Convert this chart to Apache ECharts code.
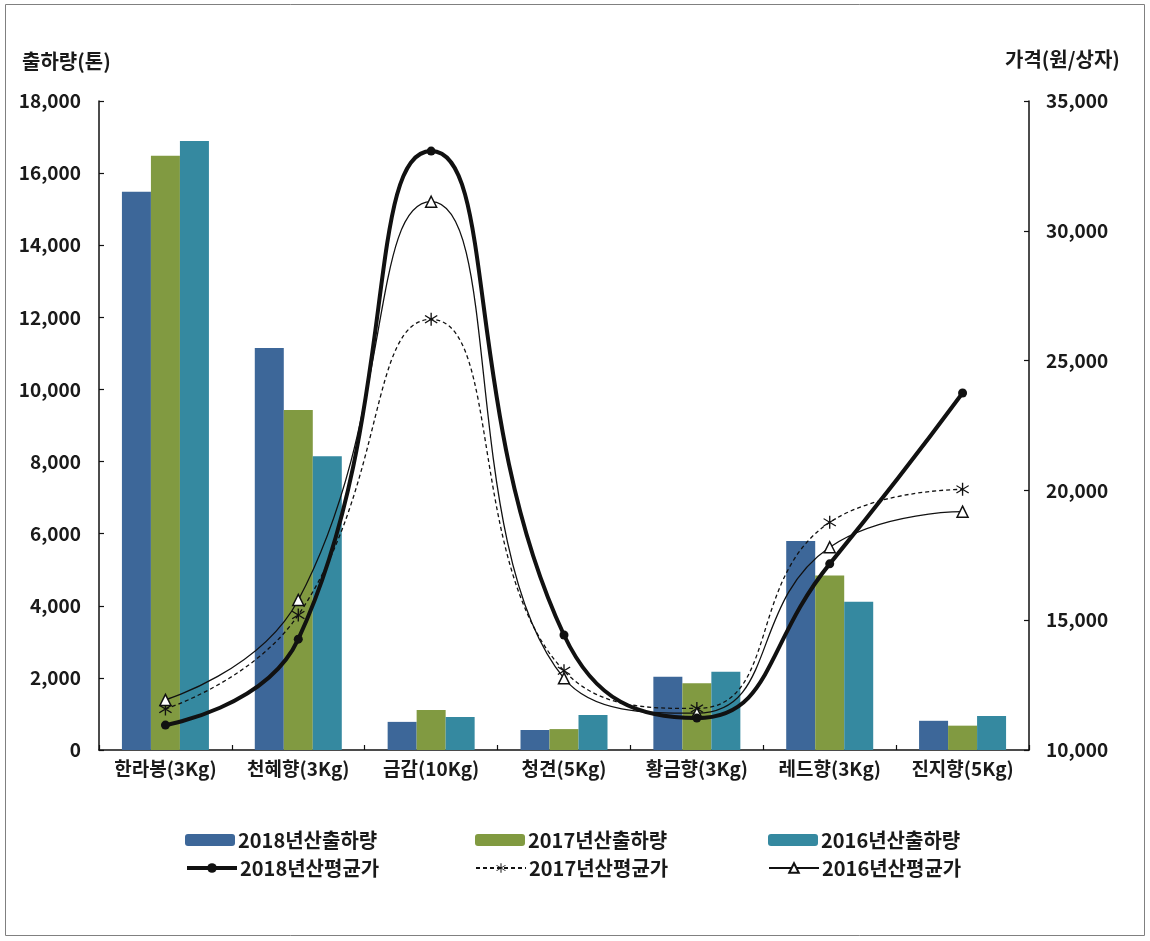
<!DOCTYPE html>
<html>
<head>
<meta charset="utf-8">
<script src="https://cdn.jsdelivr.net/npm/echarts@6/dist/echarts.min.js"></script>
<style>
html,body{margin:0;padding:0;background:#fff;}
#chart{width:1150px;height:941px;}
</style>
</head>
<body>
<div id="chart"></div>
<script>
const categories = ['한라봉(3Kg)', '천혜향(3Kg)', '금감(10Kg)', '청견(5Kg)', '황금향(3Kg)', '레드향(3Kg)', '진지향(5Kg)'];
const seriesNames = ['2018년산출하량', '2017년산출하량', '2016년산출하량', '2018년산평균가', '2017년산평균가', '2016년산평균가'];
const prod2018 = [15480, 11150, 780, 555, 2030, 5800, 810];
const prod2017 = [16480, 9430, 1110, 580, 1850, 4840, 675];
const prod2016 = [16890, 8150, 915, 970, 2170, 4110, 945];
const price2018 = [10960, 14270, 33070, 14430, 11230, 17170, 23750];
const price2017 = [11580, 15200, 26590, 13050, 11600, 18770, 20040];
const price2016 = [11930, 15780, 31120, 12760, 11420, 17810, 19180];
const leftAxisName = '출하량(톤)';
const rightAxisName = '가격(원/상자)';

const FONT = "'Noto Sans CJK KR', 'Noto Sans', sans-serif";
const TXT = '#1a1a1a';

// asterisk marker path (vertical + two diagonals)
function starPath() {
  const L = 10, t = 0.9;
  const bars = [90, 35, -35];
  let d = '';
  bars.forEach(function (deg) {
    const a = deg * Math.PI / 180;
    const c = Math.cos(a), s = Math.sin(a);
    const px = -s * t, py = c * t;
    const p = [
      [-L * c + px, -L * s + py],
      [L * c + px, L * s + py],
      [L * c - px, L * s - py],
      [-L * c - px, -L * s - py]
    ];
    d += 'M' + p.map(function (q) { return q[0].toFixed(2) + ',' + q[1].toFixed(2); }).join('L') + 'Z';
  });
  return 'path://' + d;
}

const fmt = function (v) { return v.toLocaleString('en-US'); };

const chart = echarts.init(document.getElementById('chart'));

function legendAt(item, left, top) {
  return {
    data: [item],
    left: left,
    top: top,
    padding: 0,
    itemWidth: 50,
    itemHeight: 12,
    itemGap: 0,
    selectedMode: false,
    textStyle: { fontFamily: FONT, fontSize: 20, fontWeight: 'bold', color: TXT, padding: [0, 0, 0, -2] }
  };
}

const SMOOTH = 0.5;

const option = {
  backgroundColor: '#ffffff',
  animation: false,
  textStyle: { fontFamily: FONT },
  grid: { left: 99, right: 121, top: 101, bottom: 191, containLabel: false },
  legend: [
    legendAt(seriesNames[0], 185, 830),
    legendAt(seriesNames[1], 475, 830),
    legendAt(seriesNames[2], 768, 830),
    legendAt({ name: seriesNames[3], lineStyle: { width: 4, color: '#111' } }, 185, 858),
    legendAt(seriesNames[4], 475, 858),
    legendAt(seriesNames[5], 768, 858)
  ],
  xAxis: {
    type: 'category',
    data: categories,
    axisLine: { lineStyle: { color: '#111', width: 1.5 } },
    axisTick: { show: true, inside: true, length: 5, alignWithLabel: false, interval: 0, lineStyle: { color: '#111', width: 1.2 } },
    axisLabel: { interval: 0, hideOverlap: false, fontFamily: FONT, fontSize: 19, fontWeight: 'bold', color: TXT, margin: 9 }
  },
  yAxis: [
    {
      type: 'value', min: 0, max: 18000, interval: 2000, position: 'left',
      axisLine: { show: true, lineStyle: { color: '#111', width: 1.5 } },
      axisTick: { show: true, inside: true, length: 5, lineStyle: { color: '#111', width: 1.2 } },
      splitLine: { show: false },
      axisLabel: { fontFamily: FONT, fontSize: 19, fontWeight: 'bold', color: TXT, margin: 18, formatter: fmt }
    },
    {
      type: 'value', min: 10000, max: 35000, interval: 5000, position: 'right',
      axisLine: { show: true, lineStyle: { color: '#111', width: 1.5 } },
      axisTick: { show: true, inside: true, length: 5, lineStyle: { color: '#111', width: 1.2 } },
      splitLine: { show: false },
      axisLabel: { fontFamily: FONT, fontSize: 19, fontWeight: 'bold', color: TXT, margin: 17, formatter: fmt }
    }
  ],
  graphic: [
    { type: 'rect', shape: { x: 5.5, y: 4.5, width: 1139, height: 931 }, style: { fill: 'none', stroke: '#808080', lineWidth: 1 }, silent: true },
    { type: 'text', left: 22, top: 51, style: { text: leftAxisName, font: 'bold 20px ' + FONT, fill: TXT } },
    { type: 'text', left: 1005, top: 49, style: { text: rightAxisName, font: 'bold 20px ' + FONT, fill: TXT } }
  ],
  series: [
    { name: seriesNames[0], type: 'bar', data: prod2018, barWidth: 29, barGap: '0%', itemStyle: { color: '#3d6799' }, z: 2 },
    { name: seriesNames[1], type: 'bar', data: prod2017, barWidth: 29, barGap: '0%', itemStyle: { color: '#819a41' }, z: 2 },
    { name: seriesNames[2], type: 'bar', data: prod2016, barWidth: 29, barGap: '0%', itemStyle: { color: '#3589a0' }, z: 2 },
    {
      name: seriesNames[3], type: 'line', yAxisIndex: 1, data: price2018, smooth: SMOOTH,
      symbol: 'circle', symbolSize: 9, showSymbol: true,
      lineStyle: { color: '#111', width: 4 }, itemStyle: { color: '#111' }, z: 5
    },
    {
      name: seriesNames[4], type: 'line', yAxisIndex: 1, data: price2017, smooth: SMOOTH,
      symbol: starPath(), symbolSize: 13, showSymbol: true,
      lineStyle: { color: '#111', width: 1.3, type: [4, 3] }, itemStyle: { color: '#111', borderWidth: 0 }, z: 4
    },
    {
      name: seriesNames[5], type: 'line', yAxisIndex: 1, data: price2016, smooth: SMOOTH,
      symbol: 'triangle', symbolSize: 11, showSymbol: true,
      lineStyle: { color: '#111', width: 1.3 }, itemStyle: { color: '#fff', borderColor: '#111', borderWidth: 1.5 }, z: 4
    }
  ]
};
chart.setOption(option);
</script>
</body>
</html>
